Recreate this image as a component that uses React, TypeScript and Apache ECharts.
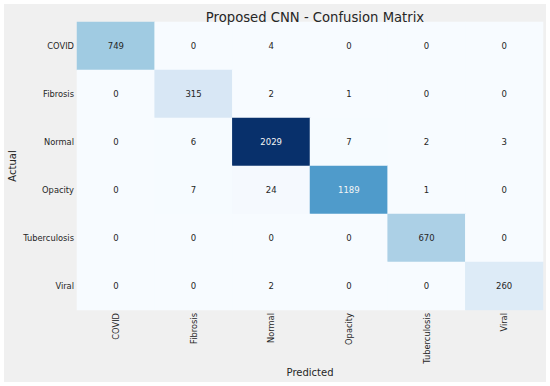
import React, { useEffect, useRef } from "react";
import * as echarts from "echarts";

const classes = ["COVID", "Fibrosis", "Normal", "Opacity", "Tuberculosis", "Viral"];
const rowCOVID = [749, 0, 4, 0, 0, 0];
const rowFibrosis = [0, 315, 2, 1, 0, 0];
const rowNormal = [0, 6, 2029, 7, 2, 3];
const rowOpacity = [0, 7, 24, 1189, 1, 0];
const rowTuberculosis = [0, 0, 0, 0, 670, 0];
const rowViral = [0, 0, 2, 0, 0, 260];
const matrix = [rowCOVID, rowFibrosis, rowNormal, rowOpacity, rowTuberculosis, rowViral];

const blues = ["#f7fbff", "#deebf7", "#c6dbef", "#9ecae1", "#6baed6", "#4292c6", "#2171b5", "#08519c", "#08306b"];
const FONT = "DejaVu Sans";

export default function App() {
  const ref = useRef<HTMLDivElement>(null);
  useEffect(() => {
    const chart = echarts.init(ref.current!, null, { renderer: "svg" });
    const maxV = Math.max(...matrix.flat());
    const data: any[] = [];
    matrix.forEach((row, r) =>
      row.forEach((v, c) => {
        data.push({
          value: [c, r, v],
          label: { color: v > maxV * 0.5 ? "#f5f5f5" : "#262626" },
        });
      })
    );
    chart.setOption({
      animation: false,
      backgroundColor: "#ffffff",
      graphic: [
        {
          type: "rect",
          z: -10,
          silent: true,
          shape: { x: 4, y: 4, width: 542, height: 378 },
          style: { fill: "#f0f0f0" },
        },
      ],
      title: {
        text: "Proposed CNN - Confusion Matrix",
        left: 310,
        textAlign: "center",
        top: 6,
        textStyle: { fontFamily: FONT, fontSize: 13.2, fontWeight: "normal", color: "#262626" },
      },
      grid: { left: 77, right: 7, top: 22, bottom: 76, outerBoundsMode: "none", containLabel: false },
      xAxis: {
        type: "category",
        data: classes,
        name: "Predicted",
        nameLocation: "middle",
        nameGap: 57,
        nameMoveOverlap: false,
        nameTextStyle: { fontFamily: FONT, fontSize: 10, color: "#262626" },
        axisLine: { show: false },
        axisTick: { show: false },
        splitLine: { show: false },
        axisLabel: { rotate: 90, fontFamily: FONT, fontSize: 8.3, color: "#262626", margin: 3 },
      },
      yAxis: {
        type: "category",
        data: classes,
        inverse: true,
        name: "Actual",
        nameLocation: "middle",
        nameGap: 60,
        nameMoveOverlap: false,
        nameTextStyle: { fontFamily: FONT, fontSize: 10, color: "#262626" },
        axisLine: { show: false },
        axisTick: { show: false },
        splitLine: { show: false },
        axisLabel: { fontFamily: FONT, fontSize: 8.3, color: "#262626", margin: 3 },
      },
      visualMap: {
        show: false,
        type: "continuous",
        min: 0,
        max: maxV,
        dimension: 2,
        inRange: { color: blues },
      },
      series: [
        {
          type: "heatmap",
          data,
          label: {
            show: true,
            fontFamily: FONT,
            fontSize: 8.5,
            formatter: (p: any) => String(p.value[2]),
          },
          itemStyle: { borderWidth: 0 },
          emphasis: { disabled: true },
        },
      ],
    });
    return () => chart.dispose();
  }, []);
  return (
    <div
      ref={ref}
      style={{ position: "fixed", left: 0, top: 0, width: 550, height: 386 }}
    />
  );
}
